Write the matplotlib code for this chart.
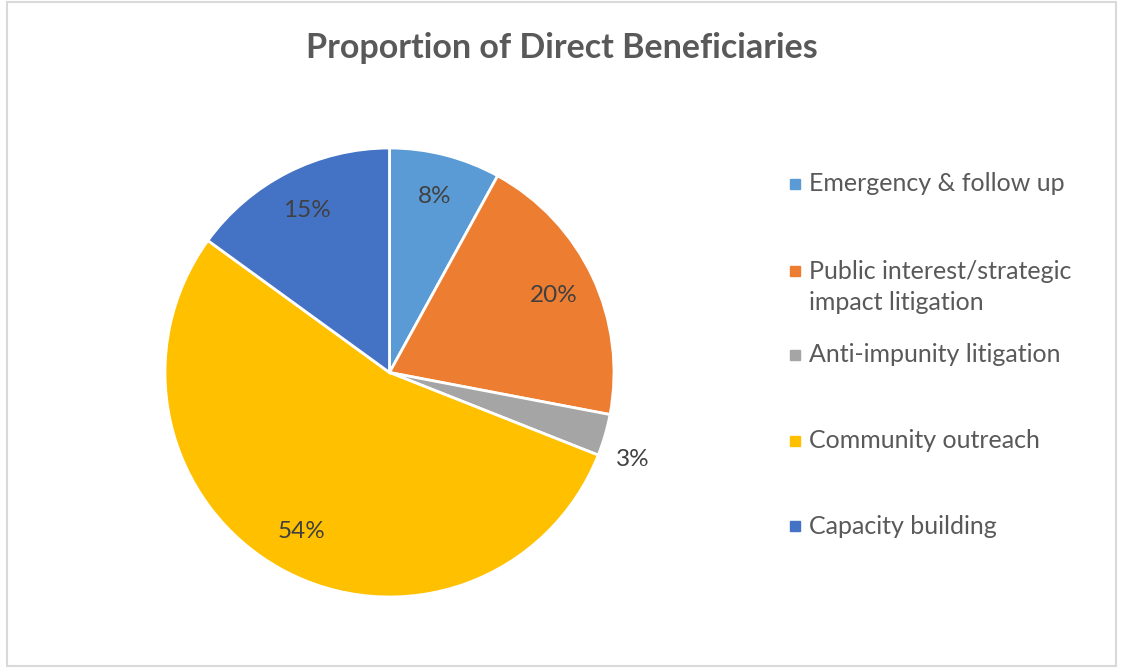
"""
Proportion of Direct Beneficiaries - pie chart
"""
import numpy as np
import matplotlib
matplotlib.use("Agg")
import matplotlib.pyplot as plt
from matplotlib.patches import Rectangle

categories = [
    "Emergency & follow up",
    "Public interest/strategic\nimpact litigation",
    "Anti-impunity litigation",
    "Community outreach",
    "Capacity building",
]
shares = [8, 20, 3, 54, 15]
colors = ["#5B9BD5", "#ED7D31", "#A5A5A5", "#FFC000", "#4472C4"]

plt.rcParams["font.family"] = ["Lato", "DejaVu Sans"]

W, H = 1122, 668
fig = plt.figure(figsize=(W / 100, H / 100), dpi=100)

# chart area border
fig.patches.append(Rectangle((6.5 / W, 2.5 / H), (1116 - 6.5) / W, (666 - 2.5) / H,
                             transform=fig.transFigure, fill=False,
                             edgecolor="#D9D9D9", linewidth=1.5))

fig.text(562 / W, 1 - 48 / H, "Proportion of Direct Beneficiaries", ha="center", va="center",
         fontsize=24.5, fontweight="bold", color="#595959")

# pie axes: centre (389.5, 372.5), radius 224.5 px
cx, cy, r = 389.5, 372.5, 224.5
ax = fig.add_axes([(cx - r) / W, 1 - (cy + r) / H, 2 * r / W, 2 * r / H])
wedges, _ = ax.pie(shares, colors=colors, startangle=90, counterclock=False,
                   wedgeprops=dict(edgecolor="white", linewidth=2))
ax.set_xlim(-1, 1)
ax.set_ylim(-1, 1)
ax.set_aspect("equal")
ax.axis("off")

for w, s in zip(wedges, shares):
    mid = (w.theta1 + w.theta2) / 2
    if s < 5:
        dist, mid = 1.15, mid - 3.5
    else:
        dist = 0.81
    mid = np.deg2rad(mid)
    ax.text(dist * np.cos(mid), dist * np.sin(mid), f"{s}%", ha="center", va="center",
            fontsize=17.5, color="#404040")

# legend (marker sits on the first line of each entry)
ys = [184, 287, 355, 441, 526]
for name, c, y in zip(categories, colors, ys):
    my = y - 16 * name.count("\n")
    fig.patches.append(Rectangle((790 / W, 1 - (my + 5) / H), 10 / W, 10 / H,
                                 transform=fig.transFigure, color=c))
    fig.text(809 / W, 1 - y / H, name, ha="left", va="center", fontsize=18,
             color="#595959", linespacing=1.4)

plt.savefig("out.png", dpi=100)
